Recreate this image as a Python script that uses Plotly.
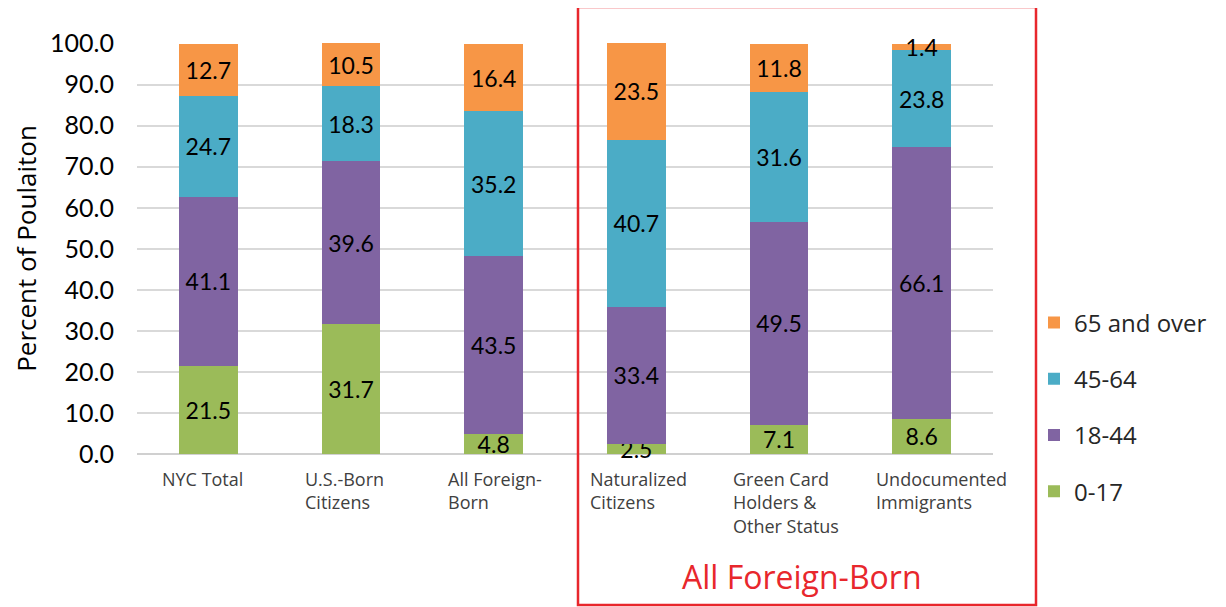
import plotly.graph_objects as go

categories = ["NYC Total", "U.S.-Born Citizens", "All Foreign-Born", "Naturalized Citizens",
              "Green Card Holders & Other Status", "Undocumented Immigrants"]
category_labels = ["NYC Total", "U.S.-Born<br>Citizens", "All Foreign-<br>Born", "Naturalized<br>Citizens",
                   "Green Card<br>Holders &<br>Other Status", "Undocumented<br>Immigrants"]
age_0_17 = [21.5, 31.7, 4.8, 2.5, 7.1, 8.6]
age_18_44 = [41.1, 39.6, 43.5, 33.4, 49.5, 66.1]
age_45_64 = [24.7, 18.3, 35.2, 40.7, 31.6, 23.8]
age_65_over = [12.7, 10.5, 16.4, 23.5, 11.8, 1.4]
y_ticks = [0, 10, 20, 30, 40, 50, 60, 70, 80, 90, 100]

series = [
    ("0-17", age_0_17, "#9BBB59", 4),
    ("18-44", age_18_44, "#8064A2", 3),
    ("45-64", age_45_64, "#4BACC6", 2),
    ("65 and over", age_65_over, "#F79646", 1),
]

fig = go.Figure()
for i, (name, vals, color, rank) in enumerate(series):
    fig.add_trace(go.Bar(
        x=categories, y=vals, name=name, marker=dict(color=color, line=dict(width=0)),
        text=[f"{v:.1f}" for v in vals], textposition="inside", insidetextanchor="middle",
        constraintext="none", textangle=0, cliponaxis=False,
        textfont=dict(family="Lato", size=23, color="#000000"),
        legendgroup=f"g{i}", legendrank=rank,
    ))

OFF = 8  # page body margin
W, H = 1226 - OFF, 607 - OFF
L, T = 137 - OFF, 43 - OFF
R = W - (993 - OFF)
B = H - (454 - OFF)
pw, ph = W - L - R, H - T - B

def px_x(x):
    return (x - OFF - L) / pw

def px_y(y):
    return (H - B - (y - OFF)) / ph

annotations = []
for cat, lab in zip(categories, category_labels):
    annotations.append(dict(
        x=cat, y=0, xref="x", yref="y", text=lab, showarrow=False,
        xanchor="left", yanchor="top", align="left", xshift=-48, yshift=-11,
        font=dict(family="Open Sans", size=18, color="#404040"),
    ))
annotations.append(dict(
    x=px_x(802), y=px_y(576), xref="paper", yref="paper", text="All Foreign-Born",
    showarrow=False, xanchor="center", yanchor="middle",
    font=dict(family="Open Sans", size=32, color="#E8272C", weight=500),
))

fig.update_layout(
    barmode="stack",
    bargap=0.59,
    width=W, height=H,
    margin=dict(l=L, r=R, t=T, b=B, autoexpand=False),
    plot_bgcolor="white", paper_bgcolor="white",
    showlegend=True,
    legend=dict(
        x=px_x(1034), y=px_y(407), xanchor="left", yanchor="middle",
        traceorder="grouped", tracegroupgap=22,
        font=dict(family="Open Sans", size=24, color="#262626"),
        bgcolor="rgba(0,0,0,0)",
    ),
    xaxis=dict(showticklabels=False, showgrid=False, showline=False, zeroline=False,
               range=[-0.5, 5.5]),
    yaxis=dict(
        range=[0, 100.15], tickvals=y_ticks, tickformat=".1f",
        showgrid=True, gridcolor="#D9D9D9", gridwidth=1.5,
        zeroline=True, zerolinecolor="#D0D0D0", zerolinewidth=2,
        ticks="", ticklabelstandoff=22,
        tickfont=dict(family="Lato", size=25, color="#000000"),
        title=dict(text="Percent of Poulaiton", standoff=34,
                   font=dict(family="Open Sans", size=26, color="#000000")),
    ),
    annotations=annotations,
    shapes=[dict(type="rect", xref="paper", yref="paper",
                 x0=px_x(578), x1=px_x(1036), y0=px_y(605), y1=px_y(7),
                 line=dict(color="#E8272C", width=2.5), fillcolor="rgba(0,0,0,0)")],
)

fig.write_html("out.html")
